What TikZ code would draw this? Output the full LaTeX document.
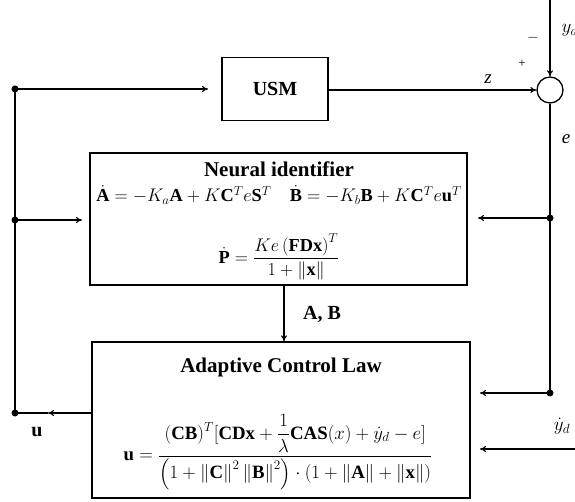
\documentclass[tikz,border=0pt]{standalone}
\usepackage{fix-cm}
\usepackage{amsmath}
\usepackage{fontspec}
\setmainfont{Liberation Serif}
\usetikzlibrary{arrows.meta}
\begin{document}
\begin{tikzpicture}[x=1pt,y=-1pt,
  line width=1.1pt,
  blk/.style={draw,line width=1.3pt,inner sep=0pt,rectangle},
  arr/.style={-{To[length=6pt,width=6pt]}},
  dot/.style={circle,fill,inner sep=0pt,minimum size=7pt},
  txt/.style={inner sep=0pt,font=\fontsize{18.3}{21}\selectfont},
  lbl/.style={inner sep=0pt,font=\fontsize{19}{21}\selectfont},
  ttl/.style={inner sep=0pt,font=\fontsize{21}{24}\selectfont\bfseries}]
\useasboundingbox (0,0) rectangle (575,502);

% blocks
\node[blk,minimum width=106pt,minimum height=63pt] (usm) at (275,89) {};
\node[ttl,font=\fontsize{20}{24}\selectfont\bfseries] (usmt) at (275,89) {USM};
\node[blk,minimum width=377pt,minimum height=132pt] (nid) at (278.5,219) {};
\node[blk,minimum width=378pt,minimum height=156pt] (acl) at (281,420) {};

% summing junction
\node[draw,circle,line width=1.3pt,minimum size=26pt,inner sep=0pt] (sum) at (550,90) {};

% identifier text
\node[ttl] (nidt) at (279,169) {Neural identifier};
\node[txt] (nide1) at (279,195)
  {$\dot{\mathbf A}=-K_a\mathbf A+K\mathbf C^T e\mathbf S^T\quad
    \dot{\mathbf B}=-K_b\mathbf B+K\mathbf C^T e\mathbf u^T$};
\node[txt] (nide2) at (279,257)
  {$\dot{\mathbf P}=\dfrac{Ke\left(\mathbf{FDx}\right)^T}{1+\left\|\mathbf x\right\|}$};

% control law text
\node[ttl] (aclt) at (281,367) {Adaptive Control Law};
\node[txt,font=\fontsize{18.8}{21}\selectfont] (acle) at (278,456)
  {$\mathbf u=\dfrac{\raisebox{9pt}{$\displaystyle(\mathbf{CB})^T[\mathbf{CDx}+\smash{\dfrac{1}{\lambda}}\mathbf{CAS}(x)+\dot y_d-e]$}}
   {\left(1+\left\|\mathbf C\right\|^2\left\|\mathbf B\right\|^2\right)\cdot\left(1+\left\|\mathbf A\right\|+\left\|\mathbf x\right\|\right)}$};

% branch points and free ends
\node[dot] (l1) at (15,89) {};
\node[dot] (l2) at (15,220) {};
\node[dot] (l3) at (15,413) {};
\node[dot] (r1) at (550,218) {};
\node[dot] (r2) at (550,393) {};
\coordinate (ytop) at (550,0);
\coordinate (ydin) at (575,449);
\coordinate (umid) at (48,413);

% connectors
\draw[arr] (ytop) -- (sum.north);
\draw[arr] (usm.east |- sum) -- (sum.west);
\draw (sum.south) -- (r2.center);
\draw[arr] (r1.center) -- ++(-72,0);
\draw[arr] (r2.center) -- ++(-70,0);
\draw[arr] (ydin) -- ++(-95,0);
\draw (l1.center) -- (l3.center);
\draw[arr] (l1.center) -- ++(193,0);
\draw[arr] (l2.center) -- ++(67,0);
\draw[arr] (acl.west |- l3) -- (umid);
\draw (umid) -- (l3.center);
\draw[arr] (nid.south -| 284,0) -- (acl.north -| 284,0);

% labels
\node[lbl] (lz) at (488,79) {\textit{z}};
\node[inner sep=0pt,font=\fontsize{13}{13}\selectfont] (lplus) at (522,64) {+};
\node[inner sep=0pt,font=\fontsize{15}{15}\selectfont] (lminus) at (533,38) {$-$};
\node[lbl,anchor=west] (lyd) at (561,30) {$y_d$};
\node[lbl] (le) at (566,139) {\textit{e}};
\node[lbl] (lydd) at (562,426) {$\dot y_d$};
\node[ttl,font=\fontsize{20}{24}\selectfont\bfseries] (lu) at (37,432) {u};
\node[ttl,font=\fontsize{20}{24}\selectfont\bfseries] (lab) at (322,314) {A, B};
\end{tikzpicture}
\end{document}
